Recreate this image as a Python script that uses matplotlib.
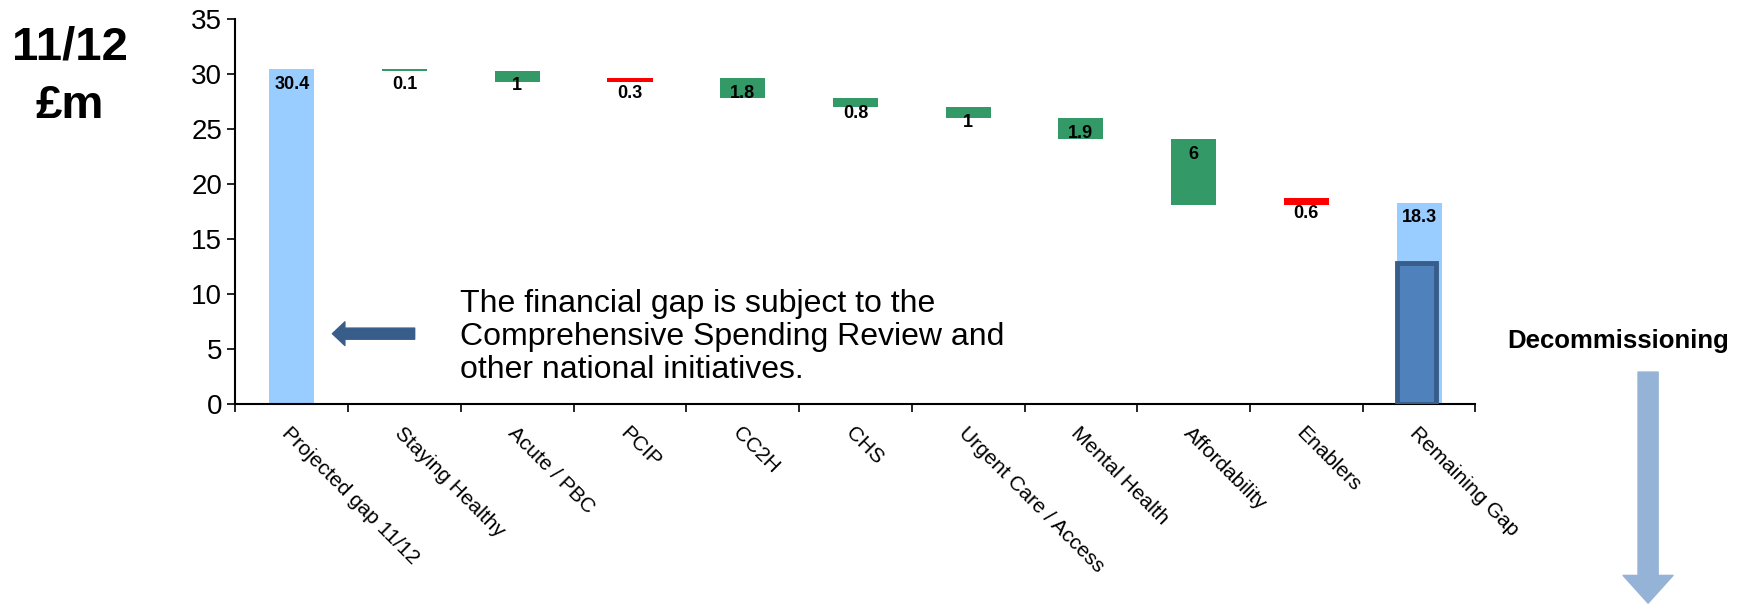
import matplotlib
matplotlib.use('Agg')
import matplotlib.pyplot as plt
from matplotlib.patches import FancyArrowPatch

# Waterfall data (£m, 2011/12)
categories = ['Projected gap 11/12', 'Staying Healthy', 'Acute / PBC', 'PCIP', 'CC2H',
              'CHS', 'Urgent Care / Access', 'Mental Health', 'Affordability',
              'Enablers', 'Remaining Gap']
values = [30.4, 0.1, 1, 0.3, 1.8, 0.8, 1, 1.9, 6, 0.6, 18.3]
# total = full bar from zero, saving = reduces gap, cost = adds to gap
kinds = ['total', 'saving', 'saving', 'cost', 'saving', 'saving', 'saving',
         'saving', 'saving', 'cost', 'total']
decommissioning = 12.8

plt.rcParams['font.family'] = ['Liberation Sans', 'DejaVu Sans']

colors = {'total': '#99CCFF', 'saving': '#339966', 'cost': '#FF0000'}

fig = plt.figure(figsize=(17.44, 6.05), dpi=100)
ax = fig.add_axes([0.135, 0.332, 0.711, 0.637])

# Work out bottoms / heights of the floating bars
bottoms = []
heights = []
running = 0
for v, k in zip(values, kinds):
    if k == 'total':
        bottoms.append(0)
        heights.append(v)
        running = v
    elif k == 'saving':
        running -= v
        bottoms.append(running)
        heights.append(v)
    else:
        bottoms.append(running)
        heights.append(v)
        running += v

xpos = list(range(len(categories)))
ax.bar(xpos, heights, bottom=bottoms, width=0.4,
       color=[colors[k] for k in kinds], zorder=2)

# Value labels just under the top of each bar
for x, b, h, v in zip(xpos, bottoms, heights, values):
    ax.annotate('{:g}'.format(v), xy=(x, b + h), xytext=(0, -11),
                textcoords='offset points', ha='center', va='center',
                fontsize=13, fontweight='bold', zorder=4)

# Decommissioning part of the remaining gap
ax.bar(xpos[-1] - 0.025, decommissioning, width=0.35, color='#4F81BD',
       edgecolor='#385D8A', linewidth=3.5, zorder=3)

ax.set_ylim(0, 35)
ax.set_yticks(range(0, 36, 5))
ax.set_xlim(-0.5, len(categories) - 0.5)
ax.set_xticks([i - 0.5 for i in range(len(categories) + 1)])
ax.set_xticklabels([])
ax.set_xticks(xpos, minor=True)
ax.set_xticklabels(categories, minor=True, rotation=-45, ha='left', va='top',
                   rotation_mode='anchor', fontsize=15)
ax.tick_params(axis='x', which='minor', length=0, pad=14)
ax.tick_params(axis='x', which='major', length=6, width=1.2, direction='out')
ax.tick_params(axis='y', labelsize=20, length=6, width=1.2)
for s in ['top', 'right']:
    ax.spines[s].set_visible(False)
for s in ['left', 'bottom']:
    ax.spines[s].set_linewidth(1.5)

# Left arrow pointing at the projected gap
ax.add_patch(FancyArrowPatch((1.09, 6.4), (0.36, 6.4), mutation_scale=10,
             arrowstyle='simple,head_length=0.9,head_width=1.7,tail_width=0.8',
             color='#385D8A', shrinkA=0, shrinkB=0, zorder=3))

fig.text(0.264, 0.443, 'The financial gap is subject to the\n'
         'Comprehensive Spending Review and\nother national initiatives.',
         fontsize=23, ha='left', va='center', linespacing=1.15)

fig.text(0.040, 0.922, '11/12', fontsize=34, fontweight='bold', ha='center', va='center')
fig.text(0.040, 0.825, '£m', fontsize=34, fontweight='bold', ha='center', va='center')

fig.text(0.928, 0.437, 'Decommissioning', fontsize=18.5, fontweight='bold',
         ha='center', va='center')
fig.patches.append(FancyArrowPatch((0.945, 0.385), (0.945, 0.003),
                   transform=fig.transFigure, mutation_scale=10,
                   arrowstyle='simple,head_length=2.0,head_width=3.6,tail_width=1.45',
                   color='#95B3D7', shrinkA=0, shrinkB=0))

fig.savefig('out.png', dpi=100)
